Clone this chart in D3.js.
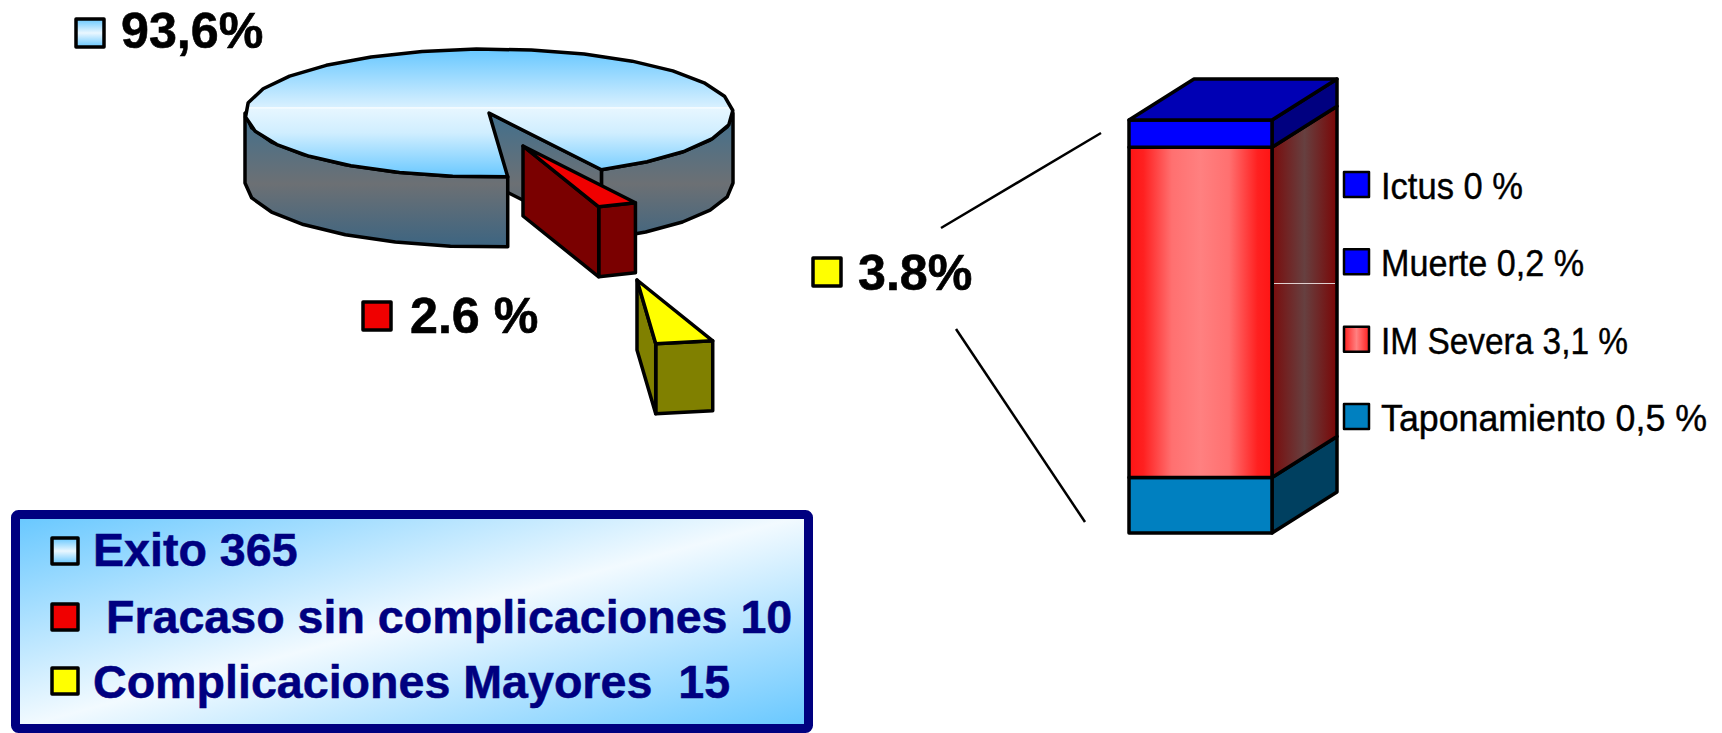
<!DOCTYPE html>
<html>
<head>
<meta charset="utf-8">
<script src="https://cdn.jsdelivr.net/npm/d3@7"></script>
<style>
    html, body { margin: 0; padding: 0; background: #fff; overflow: hidden; }
    svg { display: block; }
    text { font-family: "Liberation Sans", Arial, sans-serif; white-space: pre; }
</style>
</head>
<body>
<div id="chart-container"></div>
<script>
// pie
const pieLabels = ["93,6%", "2.6 %", "3.8%"];
const pieValues = [93.6, 2.6, 3.8];
const pieTops = ["url(#topGrad)", "#f00000", "#ffff00"];
const pieWalls = ["url(#wallGrad)", "#7a0000", "#808000"];

// stacked bar, bottom to top
const barValues = [0.51, 3.04, 0.25, 0];
const barFronts = ["#0080c0", "url(#redFront)", "#0000ff", "#0000ff"];
const barSides = ["#004060", "url(#redSide)", "#000080", "#000080"];

// legends
const boxLabels = ["Exito 365", " Fracaso sin complicaciones 10", "Complicaciones Mayores  15"];
const barLabels = ["Ictus 0 %", "Muerte 0,2 %", "IM Severa 3,1 %", "Taponamiento 0,5 %"];
const barLabelColors = ["#0000ff", "#0000ff", "url(#redKey)", "#0080c0"];

const width = 1722, height = 733;
const svg = d3.select("#chart-container").append("svg")
    .attr("width", width)
    .attr("height", height);

const defs = svg.append("defs");

function gradient(id, attrs, stops) {
    const g = defs.append("linearGradient").attr("id", id);
    Object.keys(attrs).forEach(function (k) { g.attr(k, attrs[k]); });
    stops.forEach(function (s) {
        g.append("stop").attr("offset", s[0]).attr("stop-color", s[1]);
    });
}

// these two are in the pie's local coordinates, origin at the centre
gradient("topGrad", { gradientUnits: "userSpaceOnUse", x1: 0, y1: -64, x2: 0, y2: 65 }, [
    [0, "#66c7ff"], [0.45, "#d8f0ff"], [0.455, "#ffffff"], [0.465, "#e6f6ff"], [0.65, "#d0eeff"], [1, "#66c7ff"]
]);
gradient("wallGrad", { gradientUnits: "userSpaceOnUse", x1: 0, y1: 5, x2: 0, y2: 137 }, [
    [0, "#44708c"], [0.5, "#6c7074"], [1, "#3a6482"]
]);
gradient("keyGrad", { x1: 0, y1: 0, x2: 0, y2: 1 }, [
    [0, "#66c7ff"], [0.5, "#eaf7ff"], [1, "#66c7ff"]
]);
gradient("boxGrad", { x1: 0, y1: 0, x2: 1, y2: 1 }, [
    [0, "#66c7ff"], [0.5, "#f2faff"], [1, "#66c7ff"]
]);
gradient("redFront", { x1: 0, y1: 0, x2: 1, y2: 0 }, [
    [0, "#ff1414"], [0.1, "#ff2020"], [0.3, "#ff7070"], [0.5, "#ff8080"], [0.7, "#ff7070"], [0.9, "#ff2020"], [1, "#ff1414"]
]);
gradient("redSide", { x1: 0, y1: 0, x2: 1, y2: 0 }, [
    [0, "#7a0c0c"], [0.5, "#664040"], [1, "#7a0606"]
]);
gradient("redKey", { x1: 0, y1: 0, x2: 1, y2: 0 }, [
    [0, "#ff2020"], [0.5, "#ff8080"], [1, "#ff2020"]
]);

function outlined(sel) {
    return sel.attr("stroke", "#000").attr("stroke-width", 3.5).attr("stroke-linejoin", "round");
}

// pie: angles from d3.pie, flattened by hand since d3.arc can't do the tilt
const cx = 489, cy = 113, rx = 244, ry = 64, depth = 70;
const rad = Math.PI / 180;
const pie = d3.pie().sort(null).startAngle(175.6 * rad).endAngle((175.6 + 360) * rad);
const arcs = pie(pieValues);
const offsets = [[0, 0], [34, 33], [148, 167]];
const line = d3.line();

function pt(a, drop) {
    return [rx * Math.sin(a), -ry * Math.cos(a) + (drop || 0)];
}

// points along the rim, coarse on purpose so the edge looks faceted
function rim(a0, a1, drop) {
    const n = Math.max(1, Math.round(Math.abs(a1 - a0) / (13 * rad)));
    return d3.range(n + 1).map(function (i) { return pt(a0 + (a1 - a0) * i / n, drop); });
}

function wallPath(a0, a1) {
    return line(rim(a0, a1, 0).concat(rim(a1, a0, depth))) + "Z";
}

function cutPath(a) {
    return line([[0, 0], pt(a), pt(a, depth), [0, depth]]) + "Z";
}

function topPath(a0, a1) {
    return line(rim(a0, a1, 0).concat([[0, 0]])) + "Z";
}

const pieG = svg.append("g");
arcs.forEach(function (d, i) {
    const g = pieG.append("g")
        .attr("transform", "translate(" + (cx + offsets[i][0]) + "," + (cy + offsets[i][1]) + ")");
    if (i === 0) {
        const rightFrom = 90 * rad + 2 * Math.PI;
        outlined(g.append("path").attr("d", wallPath(rightFrom, d.endAngle)).attr("fill", pieWalls[i]));
        outlined(g.append("path").attr("d", cutPath(d.endAngle)).attr("fill", pieWalls[i]));
        outlined(g.append("path").attr("d", wallPath(d.startAngle, 270 * rad)).attr("fill", pieWalls[i]));
    } else {
        outlined(g.append("path").attr("d", wallPath(d.startAngle, d.endAngle)).attr("fill", pieWalls[i]));
        outlined(g.append("path").attr("d", cutPath(d.endAngle)).attr("fill", pieWalls[i]));
    }
    outlined(g.append("path").attr("d", topPath(d.startAngle, d.endAngle)).attr("fill", pieTops[i]));
});

// pie labels
const labelSpots = [[76, 19, 121, 48], [363, 302, 410, 333], [813, 258, 858, 290]];
const keyFills = ["url(#keyGrad)", "#f00000", "#ffff00"];
pieLabels.forEach(function (t, i) {
    const s = labelSpots[i];
    outlined(svg.append("rect")
        .attr("x", s[0]).attr("y", s[1]).attr("width", 28).attr("height", 28)
        .attr("fill", keyFills[i]));
    svg.append("text")
        .attr("x", s[2]).attr("y", s[3])
        .attr("font-size", 50.2).attr("font-weight", "bold").attr("fill", "#000")
        .attr("stroke", "#000").attr("stroke-width", 0.6)
        .text(t);
});

// connector lines
svg.append("line").attr("x1", 941).attr("y1", 228).attr("x2", 1101).attr("y2", 133)
    .attr("stroke", "#000").attr("stroke-width", 2.5);
svg.append("line").attr("x1", 956).attr("y1", 329).attr("x2", 1085).attr("y2", 522)
    .attr("stroke", "#000").attr("stroke-width", 2.5);

// stacked bar
const y = d3.scaleLinear().domain([0, d3.sum(barValues)]).range([533, 120]);
const barX = d3.scaleBand().domain(["bar"]).range([1129, 1272]);
const dx = 65, dy = -41;
const x0 = barX("bar"), x1 = x0 + barX.bandwidth();
let acc = 0;
const barG = svg.append("g");
barValues.forEach(function (v, i) {
    const yb = y(acc), yt = y(acc + v);
    acc += v;
    if (v === 0) return;
    outlined(barG.append("path")
        .attr("d", line([[x1, yb], [x1 + dx, yb + dy], [x1 + dx, yt + dy], [x1, yt]]) + "Z")
        .attr("fill", barSides[i]));
    outlined(barG.append("rect")
        .attr("x", x0).attr("y", yt).attr("width", x1 - x0).attr("height", yb - yt)
        .attr("fill", barFronts[i]));
});
// top face takes the colour of the uppermost segment, darker
outlined(barG.append("path")
    .attr("d", line([[x0, y(3.8)], [x0 + dx, y(3.8) + dy], [x1 + dx, y(3.8) + dy], [x1, y(3.8)]]) + "Z")
    .attr("fill", "#0000b4"));
// light seam on the side wall
barG.append("line")
    .attr("x1", x1 + 2).attr("x2", x1 + dx - 2)
    .attr("y1", 283.5).attr("y2", 283.5)
    .attr("stroke", "#e0d0d0").attr("stroke-width", 1);

// legend of the bar, squeezed to the measured widths
const keyY = d3.scalePoint().domain(barLabels).range([172, 404]);
const barLabelWidths = [142, 203, 247, 326];
barLabels.forEach(function (t, i) {
    outlined(svg.append("rect")
        .attr("x", 1344).attr("y", keyY(t)).attr("width", 25).attr("height", 25)
        .attr("fill", barLabelColors[i]))
        .attr("stroke-width", 2.5);
    svg.append("text")
        .attr("x", 1381).attr("y", keyY(t) + 27)
        .attr("font-size", 36).attr("fill", "#000")
        .attr("stroke", "#000").attr("stroke-width", 0.4)
        .attr("textLength", barLabelWidths[i]).attr("lengthAdjust", "spacingAndGlyphs")
        .text(t);
});

// legend box
svg.append("rect")
    .attr("x", 15.5).attr("y", 514.5).attr("width", 793).attr("height", 214)
    .attr("rx", 3)
    .attr("fill", "url(#boxGrad)")
    .attr("stroke", "#000080").attr("stroke-width", 9);

const boxKeys = [538, 604, 668];
const boxBase = [566, 633, 698];
boxLabels.forEach(function (t, i) {
    outlined(svg.append("rect")
        .attr("x", 52).attr("y", boxKeys[i]).attr("width", 26).attr("height", 26)
        .attr("fill", keyFills[i]));
    svg.append("text")
        .attr("x", 93).attr("y", boxBase[i])
        .attr("font-size", 46.6).attr("font-weight", "bold").attr("fill", "#000080")
        .attr("stroke", "#000080").attr("stroke-width", 0.5)
        .text(t);
});
</script>
</body>
</html>
